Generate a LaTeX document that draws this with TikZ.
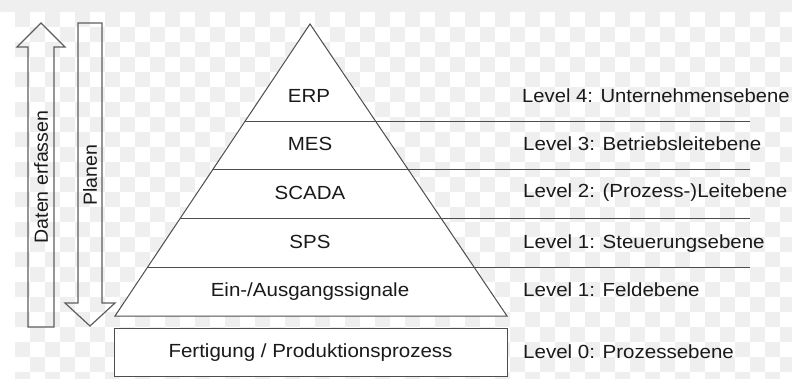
\documentclass[tikz,border=0pt]{standalone}
\usepackage{fontspec}
\setmainfont{Liberation Sans}
\definecolor{txt}{HTML}{1A1A1A}
\definecolor{lc}{HTML}{4D4D4D}
\definecolor{ac}{HTML}{5E5E5E}
\definecolor{bgg}{HTML}{EFEFEF}
\newcommand\wx[1]{\scalebox{1.08}[1]{#1}}
\begin{document}
\begin{tikzpicture}[x=1pt,y=-1pt,
  lbl/.style={font=\fontsize{19}{22}\selectfont, text=txt, inner sep=0pt},
  ln/.style={draw=lc, line width=1pt},
  arr/.style={draw=ac, line width=1.2pt, line join=miter}]
\useasboundingbox (0,0) rectangle (792,379);
\fill[white] (0,0) rectangle (792,379);
\fill[bgg] (0,0) rectangle (792,12);
\begin{scope}
\clip (15,12) rectangle (792,379);
\foreach \i in {0,...,51}{
  \foreach \j in {0,...,24}{
    \pgfmathtruncatemacro\pp{mod(\i+\j,2)}
    \ifnum\pp=0 \fill[bgg] (15+15*\i,12+15*\j) rectangle ++(15,15);\fi
  }
}
\end{scope}
% arrows
\draw[arr] (28,327) -- (28,47) -- (17,47) -- (41,23) -- (65,47) -- (54,47) -- (54,327) -- cycle;
\draw[arr] (78,23) -- (102,23) -- (102,303) -- (115,303) -- (90,326) -- (65,303) -- (78,303) -- cycle;
\node[lbl, rotate=90] (daten) at (41,177) {\scalebox{1.03}[1]{Daten erfassen}};
\node[lbl, rotate=90] (planen) at (90,175) {\scalebox{1.03}[1]{Planen}};
% pyramid
\coordinate (apex) at (310,24);
\coordinate (bl) at (115,316);
\coordinate (br) at (507,316);
\filldraw[ln, fill=white, line join=miter] (apex) -- (br) -- (bl) -- cycle;
\coordinate (l4) at (244.9,121.5); \coordinate (r4) at (750,121.5);
\coordinate (l3) at (212.8,169.5); \coordinate (r3) at (750,169.5);
\coordinate (l2) at (180.1,218.5); \coordinate (r2) at (750,218.5);
\coordinate (l1) at (147.1,268);   \coordinate (r1) at (750,268);
\draw[ln] (l4) -- (r4);
\draw[ln] (l3) -- (r3);
\draw[ln] (l2) -- (r2);
\draw[ln] (l1) -- (r1);
% base box
\node[ln, fill=white, minimum width=393pt, minimum height=48pt, inner sep=0pt] (box) at (310.5,352) {};
% pyramid labels
\node[lbl, anchor=base] (erp) at (309,102.7) {\wx{ERP}};
\node[lbl, anchor=base] (mes) at (310,151) {\wx{MES}};
\node[lbl, anchor=base] (scada) at (310,200) {\wx{SCADA}};
\node[lbl, anchor=base] (sps) at (310,249) {\wx{SPS}};
\node[lbl, anchor=base] (eio) at (310,297) {\wx{Ein-/Ausgangssignale}};
\node[lbl, anchor=base] (fert) at (box.center |- 0,357) {\wx{Fertigung / Produktionsprozess}};
% level labels
\node[lbl, anchor=base west] (lv4) at (522,103) {\scalebox{1.065}[1]{Level 4: Unternehmensebene}};
\node[lbl, anchor=base west] (lv3) at (523,151) {\wx{Level 3: Betriebsleitebene}};
\node[lbl, anchor=base west] (lv2) at (523,198) {\wx{Level 2: (Prozess-)Leitebene}};
\node[lbl, anchor=base west] (lv1s) at (523,249) {\wx{Level 1: Steuerungsebene}};
\node[lbl, anchor=base west] (lv1f) at (523,297) {\wx{Level 1: Feldebene}};
\node[lbl, anchor=base west] (lv0) at (523,358) {\wx{Level 0: Prozessebene}};
\end{tikzpicture}
\end{document}
